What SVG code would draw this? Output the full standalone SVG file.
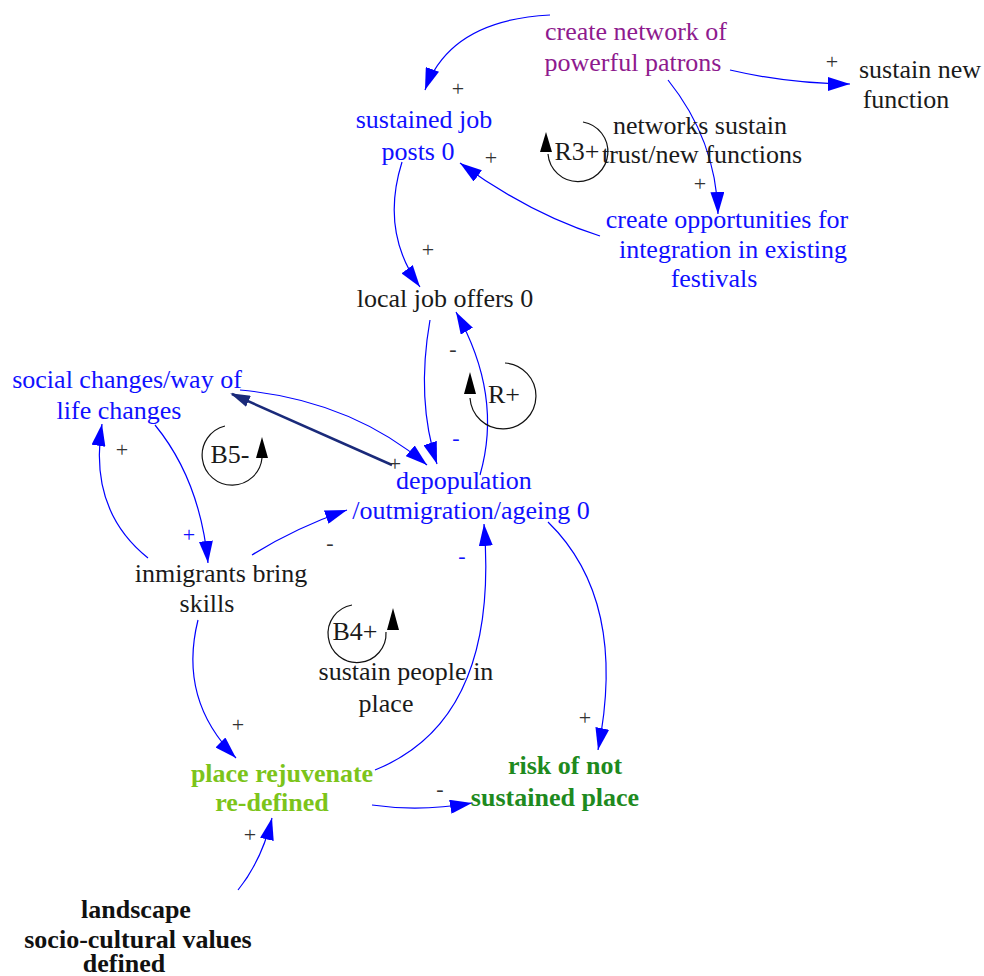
<svg xmlns="http://www.w3.org/2000/svg" width="984" height="976" viewBox="0 0 984 976">
  <defs>
    <marker id="arr" viewBox="0 0 22 14" refX="22" refY="7" markerWidth="22" markerHeight="14" markerUnits="userSpaceOnUse" orient="auto">
      <path d="M0,0 L22,7 L0,14 Z" fill="#0000ff"/>
    </marker>
    <marker id="arrNavy" viewBox="0 0 20 12" refX="18" refY="6" markerWidth="20" markerHeight="12" markerUnits="userSpaceOnUse" orient="auto">
      <path d="M0,0 L20,6 L0,12 Z" fill="#1a2a7a"/>
    </marker>
  </defs>
  <style>
    text { font-family: "Liberation Serif", "Times New Roman", serif; font-size: 26px; text-anchor: middle; }
    .blue { fill: #1010ff; }
    .black { fill: #1a1a1a; }
    .purple { fill: #8e1a8e; }
    .lime { fill: #7cc41a; font-weight: bold; }
    .green { fill: #1e8a1e; font-weight: bold; }
    .bold { fill: #111111; font-weight: bold; }
    .sign { fill: #333333; font-size: 22px; }
    .sign-b { fill: #1010ff; font-size: 22px; }
    .link { fill: none; stroke: #0000ff; stroke-width: 1.2; marker-end: url(#arr); }
    .strong { fill: none; stroke: #1a2a7a; stroke-width: 2.5; marker-end: url(#arrNavy); }
    .loop { fill: none; stroke: #111111; stroke-width: 1.2; }
    .loophead { fill: #000000; }
  </style>

  <!-- connectors -->
  <g id="connectors">
    <path class="link" d="M550,15 Q450,20 425,90"/>
    <path class="link" d="M730,70 Q790,84 850,84"/>
    <path class="link" d="M668,80 Q716,140 718,214"/>
    <path class="link" d="M600,236 Q530,214 460,163"/>
    <path class="link" d="M402,162 Q380,232 420,287"/>
    <path class="link" d="M430,320 Q416,400 437,464"/>
    <path class="link" d="M480,475 Q503,395 456,312"/>
    <path class="link" d="M240,390 Q350,400 427,465"/>
    <path class="strong" d="M392,465 L232,394"/>
    <path class="link" d="M155,425 Q200,480 208,563"/>
    <path class="link" d="M148,558 Q88,510 102,424"/>
    <path class="link" d="M252,555 Q295,528 347,510"/>
    <path class="link" d="M198,620 Q178,700 236,758"/>
    <path class="link" d="M375,770 Q500,720 484,524"/>
    <path class="link" d="M548,522 Q628,600 598,750"/>
    <path class="link" d="M372,805 Q420,812 472,803"/>
    <path class="link" d="M238,890 Q262,860 272,818"/>

    <!-- polarity signs -->
    <text class="sign" x="458" y="96">+</text>
    <text class="sign" x="832" y="69">+</text>
    <text class="sign" x="700" y="191">+</text>
    <text class="sign" x="491" y="165">+</text>
    <text class="sign" x="428" y="257">+</text>
    <text class="sign" x="453" y="356">-</text>
    <text class="sign-b" x="456" y="445">-</text>
    <text class="sign" x="395" y="471">+</text>
    <text class="sign" x="122" y="457">+</text>
    <text class="sign-b" x="189" y="542">+</text>
    <text class="sign" x="330" y="550">-</text>
    <text class="sign-b" x="462" y="563">-</text>
    <text class="sign" x="238" y="732">+</text>
    <text class="sign" x="585" y="725">+</text>
    <text class="sign" x="440" y="796">-</text>
    <text class="sign" x="250" y="842">+</text>
  </g>

  <!-- loop markers -->
  <g id="loop-R3">
    <path class="loop" d="M583,122 A30,30 0 1,1 548,154"/>
    <path class="loophead" d="M546,132 L540,152 L552,152 Z"/>
    <text class="black" x="577" y="160">R3+</text>
  </g>
  <g id="loop-B5">
    <path class="loop" d="M225,426 A30,30 0 1,0 262,458"/>
    <path class="loophead" d="M262,437 L256,458 L268,458 Z"/>
    <text class="black" x="230" y="463">B5-</text>
  </g>
  <g id="loop-R">
    <path class="loop" d="M505,363 A33,33 0 1,1 470,398"/>
    <path class="loophead" d="M470,372 L464,394 L476,394 Z"/>
    <text class="black" x="504" y="403">R+</text>
  </g>
  <g id="loop-B4">
    <path class="loop" d="M352,605 A29,29 0 1,0 386,632"/>
    <path class="loophead" d="M393,608 L387,630 L399,630 Z"/>
    <text class="black" x="355" y="640">B4+</text>
  </g>

  <!-- nodes -->
  <g id="node-patrons">
    <text class="purple" x="636" y="40">create network of</text>
    <text class="purple" x="633" y="71">powerful patrons</text>
  </g>
  <g id="node-sustain-function">
    <text class="black" x="920" y="78">sustain new</text>
    <text class="black" x="906" y="108">function</text>
  </g>
  <g id="node-job-posts">
    <text class="blue" x="424" y="128">sustained job</text>
    <text class="blue" x="418" y="160">posts 0</text>
  </g>
  <g id="node-networks">
    <text class="black" x="700" y="134">networks sustain</text>
    <text class="black" x="702" y="163">trust/new functions</text>
  </g>
  <g id="node-opportunities">
    <text class="blue" x="727" y="228">create opportunities for</text>
    <text class="blue" x="733" y="258">integration in existing</text>
    <text class="blue" x="714" y="287">festivals</text>
  </g>
  <g id="node-local-jobs">
    <text class="black" x="445" y="307">local job offers 0</text>
  </g>
  <g id="node-social-changes">
    <text class="blue" x="127" y="388">social changes/way of</text>
    <text class="blue" x="119" y="419">life changes</text>
  </g>
  <g id="node-depopulation">
    <text class="blue" x="464" y="489">depopulation</text>
    <text class="blue" x="471" y="519">/outmigration/ageing 0</text>
  </g>
  <g id="node-inmigrants">
    <text class="black" x="221" y="582">inmigrants bring</text>
    <text class="black" x="207" y="612">skills</text>
  </g>
  <g id="node-sustain-people">
    <text class="black" x="406" y="680">sustain people in</text>
    <text class="black" x="386" y="712">place</text>
  </g>
  <g id="node-rejuvenate">
    <text class="lime" x="282" y="782">place rejuvenate</text>
    <text class="lime" x="272" y="811">re-defined</text>
  </g>
  <g id="node-risk">
    <text class="green" x="565" y="774">risk of not</text>
    <text class="green" x="555" y="806">sustained place</text>
  </g>
  <g id="node-landscape">
    <text class="bold" x="136" y="918">landscape</text>
    <text class="bold" x="138" y="948">socio-cultural values</text>
    <text class="bold" x="124" y="972">defined</text>
  </g>
</svg>
